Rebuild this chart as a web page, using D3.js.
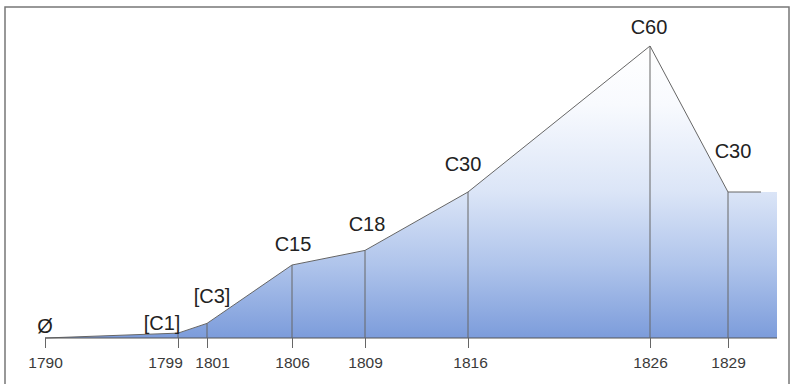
<!DOCTYPE html>
<html>
<head>
<meta charset="utf-8">
<script src="https://cdn.jsdelivr.net/npm/d3@7"></script>
<style>
  html, body { margin: 0; padding: 0; background: #fff; }
  svg { display: block; }
  text { font-family: "Liberation Sans", Arial, Helvetica, sans-serif; }
</style>
</head>
<body>
<svg id="chart" width="795" height="384"></svg>
<script>
// Milestone years and the level reached at each one
const years = [1790, 1799, 1801, 1806, 1809, 1816, 1826, 1829];
const values = [0, 1, 3, 15, 18, 30, 60, 30];
const pointLabels = ["Ø", "[C1]", "[C3]", "C15", "C18", "C30", "C60", "C30"];
const tickLabels = ["1790", "1799", "1801", "1806", "1809", "1816", "1826", "1829"];
// The last level is held a little past the final milestone
const endYear = 1831;

const W = 795, H = 384;
const svg = d3.select("#chart");

// Piecewise time axis: each interval gets its own stretch
const x = d3.scaleLinear()
  .domain([...years, endYear])
  .range([45, 178, 207, 292, 365, 468, 650, 728, 777]);

const y = d3.scaleLinear().domain([0, 60]).range([338, 46]);

const pts = years.map((yr, i) => ({ year: yr, value: values[i], label: pointLabels[i] }));
const fillPts = [...pts, { year: endYear, value: values[values.length - 1] }];

// Vertical gradient, white at the top fading to blue at the base
const defs = svg.append("defs");
const grad = defs.append("linearGradient")
  .attr("id", "fillGrad")
  .attr("gradientUnits", "userSpaceOnUse")
  .attr("x1", 0).attr("x2", 0)
  .attr("y1", y(60)).attr("y2", y(0));
[[0, "#ffffff"], [0.2, "#f8fafe"], [0.5, "#dbe5f7"], [0.75, "#afc4eb"], [1, "#7c9cdb"]]
  .forEach(([o, c]) => grad.append("stop").attr("offset", o).attr("stop-color", c));

// Frame
svg.append("path")
  .attr("d", `M5,${H} L5,7 L789,7 L789,${H}`)
  .attr("fill", "none")
  .attr("stroke", "#777")
  .attr("stroke-width", 1.5);

// Filled area
const area = d3.area()
  .x(d => x(d.year))
  .y0(y(0))
  .y1(d => y(d.value));
svg.append("path")
  .datum(fillPts)
  .attr("d", area)
  .attr("fill", "url(#fillGrad)");

// Outline along the top of the area, with a short hold after the last milestone
const line = d3.line().x(d => x(d.year)).y(d => y(d.value));
const last = pts[pts.length - 1];
svg.append("path")
  .attr("d", line(pts) + `L${x(last.year) + 33},${y(last.value)}`)
  .attr("fill", "none")
  .attr("stroke", "#666")
  .attr("stroke-width", 1);

// Baseline
svg.append("line")
  .attr("x1", x(years[0])).attr("x2", x(endYear))
  .attr("y1", y(0)).attr("y2", y(0))
  .attr("stroke", "#555")
  .attr("stroke-width", 1);

// Drop lines from each milestone to the baseline
svg.append("g")
  .selectAll("line")
  .data(pts.filter(d => d.value > 0))
  .join("line")
  .attr("x1", d => x(d.year)).attr("x2", d => x(d.year))
  .attr("y1", d => y(d.value)).attr("y2", y(0))
  .attr("stroke", "#666")
  .attr("stroke-width", 1);

// Year axis
const axis = d3.axisBottom(x)
  .tickValues(years)
  .tickSize(10)
  .tickPadding(9)
  .tickFormat((d, i) => tickLabels[i]);
const gAxis = svg.append("g")
  .attr("transform", `translate(0,${y(0)})`)
  .call(axis);
gAxis.select(".domain").remove();
gAxis.selectAll(".tick line").attr("stroke", "#666");
// Spread the two crowded year labels apart
const tickShift = { 1799: -13, 1801: 5, 1816: 2 };
gAxis.selectAll(".tick text")
  .attr("fill", "#3a3a3a")
  .attr("x", d => tickShift[d] || 0)
  .style("font-size", "15.5px")
  .style("font-family", "'Liberation Sans', Arial, sans-serif");

// Milestone labels, nudged to sit clear of the outline
const nudge = {
  1790: [0, -5], 1799: [-16, -3], 1801: [5, -20], 1806: [1, -14],
  1809: [2, -19], 1816: [-5, -21], 1826: [-1, -12], 1829: [5, -34]
};
svg.append("g")
  .selectAll("text")
  .data(pts)
  .join("text")
  .attr("x", d => x(d.year) + nudge[d.year][0])
  .attr("y", d => y(d.value) + nudge[d.year][1])
  .attr("text-anchor", "middle")
  .attr("fill", "#222")
  .style("font-size", "20px")
  .text(d => d.label);
</script>
</body>
</html>
